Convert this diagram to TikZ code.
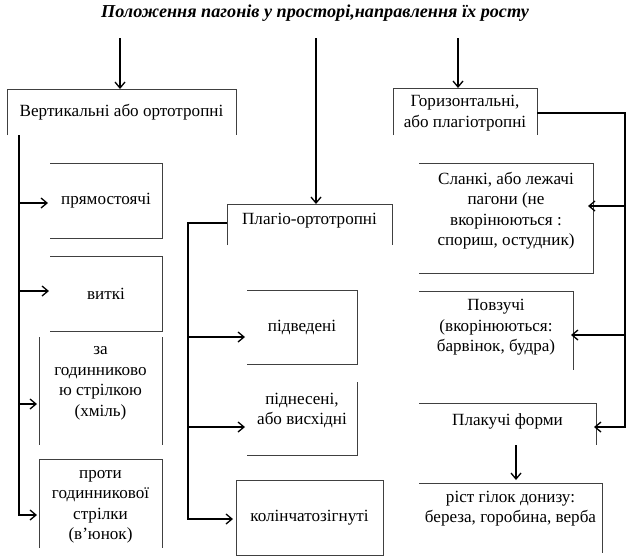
\documentclass[tikz,border=0pt]{standalone}
\usepackage{fontspec}
\setmainfont{Liberation Serif}
\usetikzlibrary{arrows.meta}
\begin{document}
\begin{tikzpicture}[x=1pt,y=-1pt,
  bx/.style={inner sep=0pt, outer sep=0pt, anchor=north west},
  txt/.style={align=center, inner sep=0pt, font=\fontsize{17.1}{20.5}\selectfont},
  edge/.style={draw=black!75, line width=0.9pt},
  conn/.style={line width=1.3pt},
  arr/.style={conn, -{Straight Barb[length=6pt,width=10pt]}}]
\useasboundingbox (0,0) rectangle (629,558);
% title
\node[font=\fontsize{18.2}{21}\selectfont\bfseries\itshape, inner sep=0pt] (title) at (315,13) {Положення пагонів у просторі,направлення їх росту};
% boxes
\node[bx, minimum width=229pt, minimum height=46pt] (vert) at (7,89) {};
\node[bx, minimum width=112pt, minimum height=75pt] (pryam) at (50,163) {};
\node[bx, minimum width=112pt, minimum height=75pt] (vytki) at (50,256) {};
\node[bx, minimum width=123pt, minimum height=108pt] (za) at (39,337) {};
\node[bx, minimum width=123pt, minimum height=89pt] (proty) at (39,459) {};
\node[bx, minimum width=165pt, minimum height=41pt] (plag) at (227,204) {};
\node[bx, minimum width=110pt, minimum height=74pt] (pidved) at (247,290) {};
\node[bx, minimum width=110pt, minimum height=73pt] (pidnes) at (247,382) {};
\node[bx, minimum width=147pt, minimum height=75pt] (kolin) at (236,480) {};
\node[bx, minimum width=144pt, minimum height=47pt] (horiz) at (393,88) {};
\node[bx, minimum width=174pt, minimum height=110pt] (slanki) at (419,163) {};
\node[bx, minimum width=154pt, minimum height=79pt] (povz) at (419,291) {};
\node[bx, minimum width=177pt, minimum height=42pt] (plak) at (419,403) {};
\node[bx, minimum width=183pt, minimum height=70pt] (rist) at (419,483) {};
% visible edges
\draw[edge] (vert.south west) -- (vert.north west) -- (vert.north east) -- (vert.south east);
\draw[edge] (pryam.north west) -- (pryam.north east) -- (pryam.south east) -- (pryam.south west);
\draw[edge] (vytki.north west) -- (vytki.north east) -- (vytki.south east) -- (vytki.south west);
\draw[edge] (za.north west) -- (za.south west) (za.north east) -- (za.south east);
\draw[edge] (proty.south west) -- (proty.north west) -- (proty.north east) -- (proty.south east);
\draw[edge] (plag.south west) -- (plag.north west) -- (plag.north east) -- (plag.south east);
\draw[edge] (pidved.north west) -- (pidved.north east) -- (pidved.south east) -- (pidved.south west);
\draw[edge] (pidnes.north east) -- (pidnes.south east) -- (pidnes.south west);
\draw[edge] (kolin.north west) rectangle (kolin.south east);
\draw[edge] (horiz.south west) -- (horiz.north west) -- (horiz.north east) -- (horiz.south east);
\draw[edge] (slanki.north west) -- (slanki.north east) -- (slanki.south east) -- (slanki.south west);
\draw[edge] (povz.north west) -- (povz.north east) -- (povz.south east);
\draw[edge] (plak.north west) -- (plak.north east) -- (plak.south east);
\draw[edge] (rist.north west) -- (rist.north east) -- (rist.south east);
% texts
\node[txt] (vertT) at (vert.center) {Вертикальні або ортотропні};
\node[txt] (pryamT) at (pryam.center) {прямостоячі};
\node[txt] (vytkiT) at (vytki.center) {виткі};
\node[txt, yshift=7.5pt] (zaT) at (za.center) {за\\годинниково\\ю стрілкою\\(хміль)};
\node[txt, yshift=-3.5pt] (protyT) at (proty.center) {проти\\годинникової\\стрілки\\(в'юнок)};
\node[txt, yshift=3.5pt] (plagT) at (plag.center) {Плагіо-ортотропні};
\node[txt] (pidvedT) at (pidved.center) {підведені};
\node[txt, yshift=8pt] (pidnesT) at (pidnes.center) {піднесені,\\або висхідні};
\node[txt] (kolinT) at (kolin.center) {колінчатозігнуті};
\node[txt, yshift=-1.5pt] (horizT) at (horiz.center) {Горизонтальні,\\або плагіотропні};
\node[txt, yshift=7.5pt] (slankiT) at (slanki.center) {Сланкі, або лежачі\\пагони (не\\вкорінюються :\\спориш, остудник)};
\node[txt, yshift=3pt] (povzT) at (povz.center) {Повзучі\\(вкорінюються:\\барвінок, будра)};
\node[txt, yshift=3pt] (plakT) at (plak.center) {Плакучі форми};
\node[txt, yshift=9.5pt] (ristT) at (rist.center) {ріст гілок донизу:\\береза, горобина, верба};
% connectors from title
\coordinate (tl) at (120,38);
\coordinate (tm) at (316,38);
\coordinate (tr) at (458,38);
\draw[arr] (tl) -- (tl |- vert.north);
\draw[arr] (tm) -- (tm |- plag.north);
\draw[arr] (tr) -- (tr |- horiz.north);
% left trunk
\coordinate (lt) at (19,135);
\draw[arr, shorten >=2pt] (lt) |- (proty.west |- 0,515);
\draw[arr, shorten >=2pt] (lt |- 0,203) -- (pryam.west |- 0,203);
\draw[arr, shorten >=1pt] (lt |- 0,291) -- (vytki.west |- 0,291);
\draw[arr, shorten >=2pt] (lt |- 0,404) -- (za.west |- 0,404);
% middle trunk
\coordinate (mt) at (188,223);
\draw[arr, shorten >=3pt] (plag.west |- mt) -- (mt) |- (kolin.west |- 0,519);
\draw[arr, shorten >=2pt] (mt |- 0,337) -- (pidved.west |- 0,337);
\draw[arr, shorten >=2pt] (mt |- 0,427) -- (pidnes.west |- 0,427);
% right trunk
\coordinate (rt) at (625,113);
\draw[arr, shorten >=-2pt] (horiz.east |- rt) -- (rt) |- (plak.east |- 0,427);
\draw[arr, shorten >=-5pt] (rt |- 0,206) -- (slanki.east |- 0,206);
\draw[arr, shorten >=-2pt] (rt |- 0,335) -- (povz.east |- 0,335);
\coordinate (pd) at (516,445);
\draw[arr, shorten >=3pt] (pd) -- (pd |- rist.north);
\end{tikzpicture}
\end{document}
